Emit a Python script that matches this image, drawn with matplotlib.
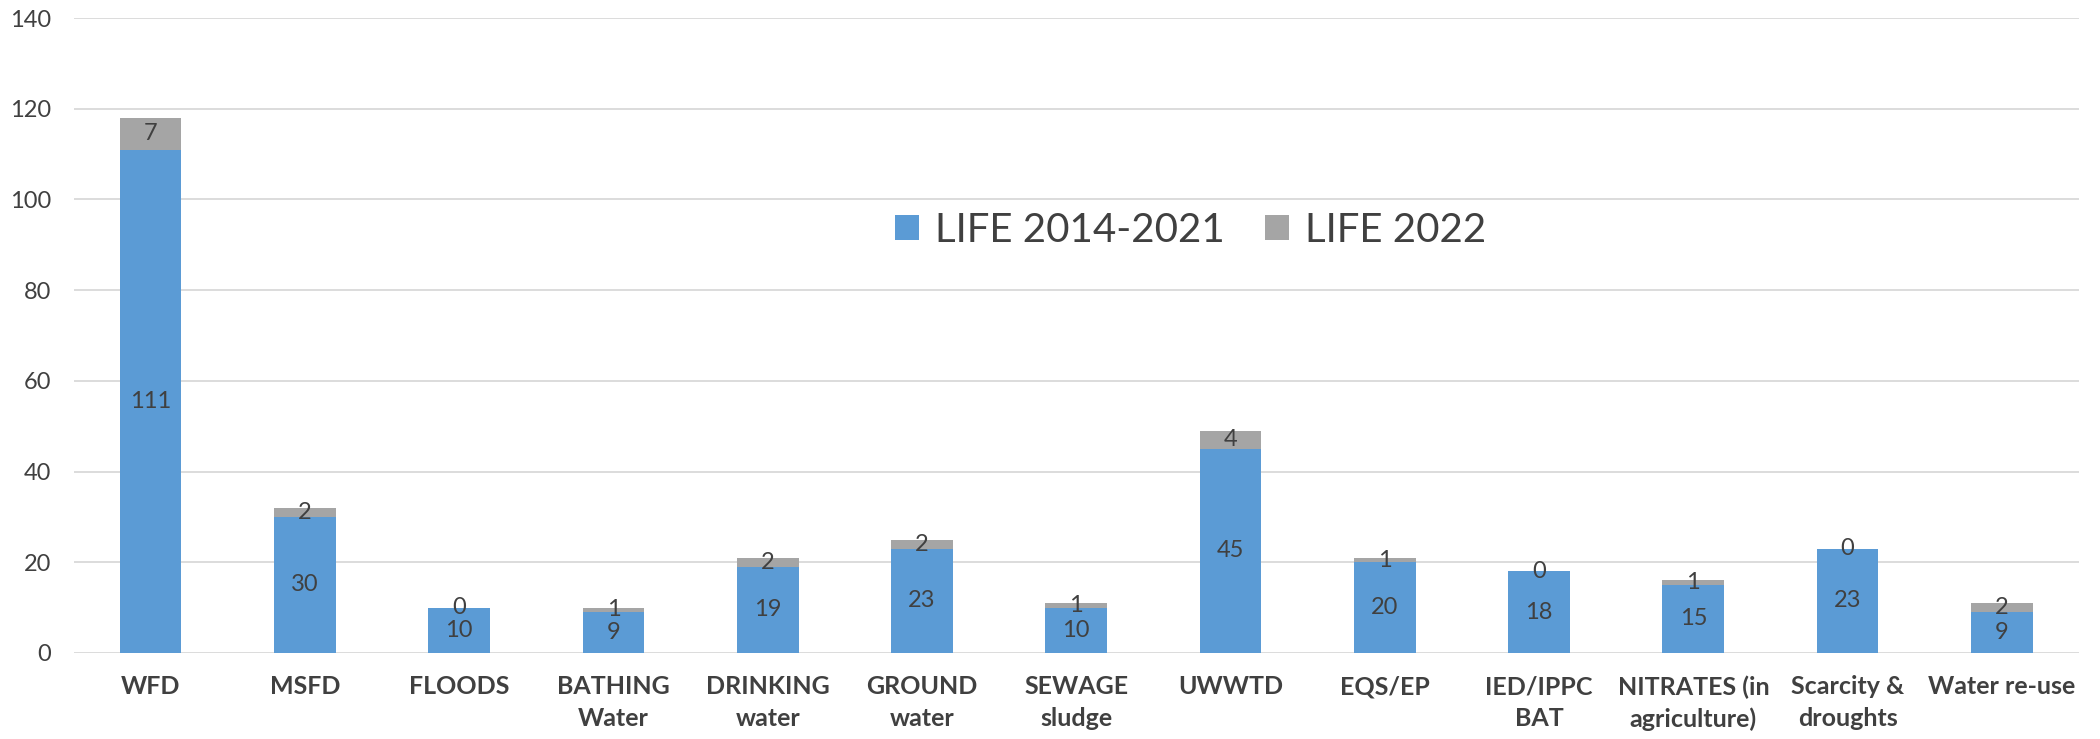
import matplotlib
matplotlib.use("Agg")
import matplotlib.pyplot as plt

categories = ["WFD", "MSFD", "FLOODS", "BATHING\nWater", "DRINKING\nwater",
              "GROUND\nwater", "SEWAGE\nsludge", "UWWTD", "EQS/EP", "IED/IPPC\nBAT",
              "NITRATES (in\nagriculture)", "Scarcity &\ndroughts", "Water re-use"]
life_2014_2021 = [111, 30, 10, 9, 19, 23, 10, 45, 20, 18, 15, 23, 9]
life_2022 = [7, 2, 0, 1, 2, 2, 1, 4, 1, 0, 1, 0, 2]

plt.rcParams['font.family'] = ['Lato', 'DejaVu Sans']
text_col = "#404040"

fig = plt.figure(figsize=(21, 7.39), dpi=100)
ax = fig.add_axes([0.035, 0.1164, 0.955, 0.8592])

x = range(len(categories))
b1 = ax.bar(x, life_2014_2021, width=0.4, color="#5B9BD5", label="LIFE 2014-2021", zorder=3)
b2 = ax.bar(x, life_2022, width=0.4, bottom=life_2014_2021, color="#A5A5A5",
            label="LIFE 2022", zorder=3)
ax.bar_label(b1, label_type="center", fontsize=17, color=text_col)
ax.bar_label(b2, label_type="center", fontsize=17, color=text_col)

ax.set_ylim(0, 140)
ax.set_yticks(range(0, 141, 20))
ax.set_xlim(-0.5, len(categories) - 0.5)
ax.set_xticks(list(x))
ax.set_xticklabels(categories, fontsize=18, fontweight="bold", color=text_col,
                   linespacing=1.45)
ax.tick_params(axis="y", labelsize=17, colors=text_col, length=0, pad=16)
ax.tick_params(axis="x", length=0, pad=16)
ax.grid(axis="y", color="#D9D9D9", linewidth=1.3, zorder=0)
for s in ax.spines.values():
    s.set_visible(False)

leg = ax.legend(loc="center", bbox_to_anchor=(0.557, 0.666), ncol=2, frameon=False,
                fontsize=29, handlelength=0.6, handleheight=0.6, columnspacing=1.0,
                handletextpad=0.4, labelcolor=text_col)

fig.savefig("out.png", dpi=100)
